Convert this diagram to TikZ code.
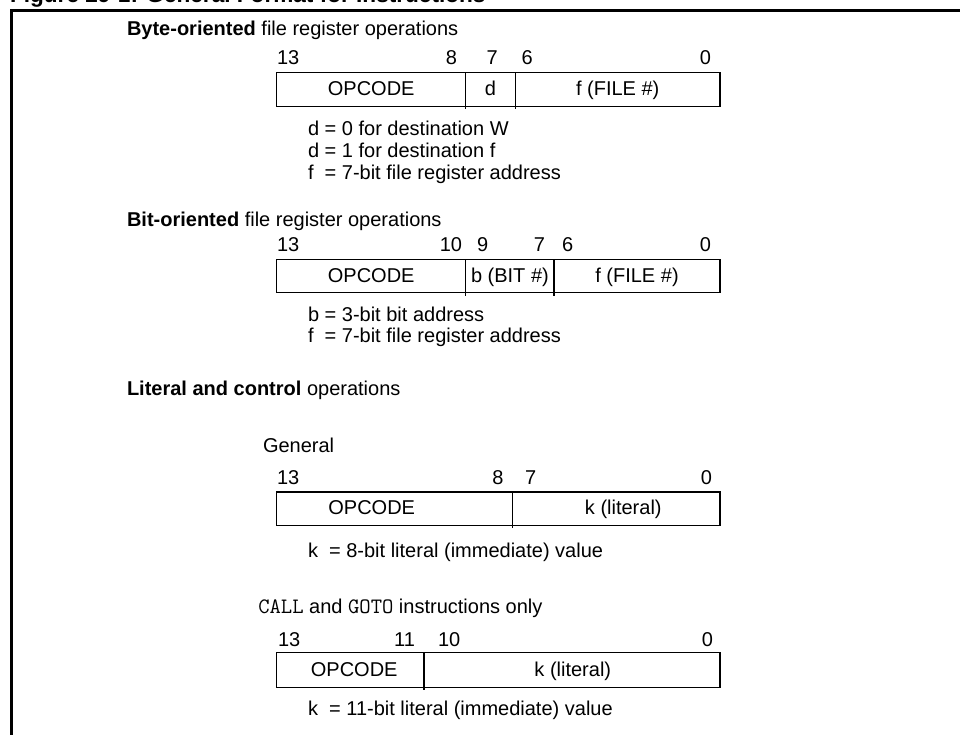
\documentclass[tikz,border=0pt]{standalone}
\usepackage{fontspec}
\setmainfont{Liberation Sans}
\begin{document}
\begin{tikzpicture}[x=1pt,y=-1pt,
  txt/.style={inner sep=0pt, outer sep=0pt, font=\fontsize{20}{22}\selectfont},
  lt/.style={txt, anchor=base west},
  rt/.style={txt, anchor=base east},
  ct/.style={txt, anchor=base},
  fieldbox/.style={draw, line width=1.2pt},
  divider/.style={line width=1.2pt},
  frameline/.style={line width=2.5pt}]
\newcommand{\codeword}[1]{{\ttfamily\fontsize{22}{22}\selectfont #1}}
\useasboundingbox (0,0) rectangle (960,735);
% title (cut off at top, as in the reference)
\node[lt, font={\fontsize{22.6}{24}\selectfont\bfseries}] (title) at (10,3) {Figure 29-1: General Format for Instructions};
% frame
\coordinate (fbl) at (11.3,745);
\coordinate (ftl) at (11.3,10.5);
\coordinate (ftr) at (970,10.5);
\draw[frameline] (fbl) -- (ftl) -- (ftr);

% ---------- Byte-oriented ----------
\node[lt] (h1) at (127,36) {\textbf{Byte-oriented} file register operations};
\node[lt] (b1n13) at (277,65) {13};
\node[rt] (b1n8) at (457,65) {8};
\node[lt] (b1n7) at (486.5,65) {7};
\node[lt] (b1n6) at (521.5,65) {6};
\node[rt] (b1n0) at (711,65) {0};
\draw[fieldbox] (276.7,72.7) rectangle (720,106.7);
\draw[divider] (465.7,72.7) -- (465.7,109.5);
\draw[divider] (515.3,72.7) -- (515.3,109.5);
\node[ct] (b1op) at (371.2,96) {OPCODE};
\node[ct] (b1d) at (490.5,96) {d};
\node[ct] (b1f) at (617.7,96) {f (FILE \#)};
\node[lt] (b1a) at (308,136) {d = 0 for destination W};
\node[lt] (b1b) at (308,157.7) {d = 1 for destination f};
\node[lt] (b1c) at (308,179.3) {f~~= 7-bit file register address};

% ---------- Bit-oriented ----------
\node[lt] (h2) at (127,226) {\textbf{Bit-oriented} file register operations};
\node[lt] (b2n13) at (277,251.7) {13};
\node[rt] (b2n10) at (462,251.7) {10};
\node[lt] (b2n9) at (477,251.7) {9};
\node[rt] (b2n7) at (545,251.7) {7};
\node[lt] (b2n6) at (562,251.7) {6};
\node[rt] (b2n0) at (711,251.7) {0};
\draw[fieldbox] (276.7,259.3) rectangle (720,292.7);
\draw[divider] (465.7,259.3) -- (465.7,296);
\draw[divider] (554,259.3) -- (554,296);
\node[ct] (b2op) at (371.2,282) {OPCODE};
\node[ct] (b2b) at (509.9,282) {b (BIT \#)};
\node[ct] (b2f) at (637,282) {f (FILE \#)};
\node[lt] (b2a) at (308,321) {b = 3-bit bit address};
\node[lt] (b2c) at (308,342.7) {f~~= 7-bit file register address};

% ---------- Literal and control ----------
\node[lt] (h3) at (127,395) {\textbf{Literal and control} operations};
\node[lt] (gen) at (263,452) {General};
\node[lt] (b3n13) at (277,484.3) {13};
\node[rt] (b3n8) at (503.5,484.3) {8};
\node[lt] (b3n7) at (525,484.3) {7};
\node[rt] (b3n0) at (712,484.3) {0};
\draw[fieldbox] (276.7,492) rectangle (720,525.7);
\draw[divider] (512.7,492) -- (512.7,528);
\node[ct] (b3op) at (371.7,514.3) {OPCODE};
\node[ct] (b3k) at (623.3,514.3) {k (literal)};
\node[lt] (b3a) at (308,557.3) {k~~= 8-bit literal (immediate) value};

\node[lt] (call) at (258.3,613.3) {\codeword{CALL} and \codeword{GOTO} instructions only};
\node[lt] (b4n13) at (278,646.7) {13};
\node[rt] (b4n11) at (415,646.7) {11};
\node[lt] (b4n10) at (438,646.7) {10};
\node[rt] (b4n0) at (713,646.7) {0};
\draw[fieldbox] (276.3,652.7) rectangle (720,687.3);
\draw[divider] (424,652.7) -- (424,689.5);
\node[ct] (b4op) at (354.2,676) {OPCODE};
\node[ct] (b4k) at (572.8,676) {k (literal)};
\node[lt] (b4a) at (308,715) {k~~= 11-bit literal (immediate) value};
\end{tikzpicture}
\end{document}
